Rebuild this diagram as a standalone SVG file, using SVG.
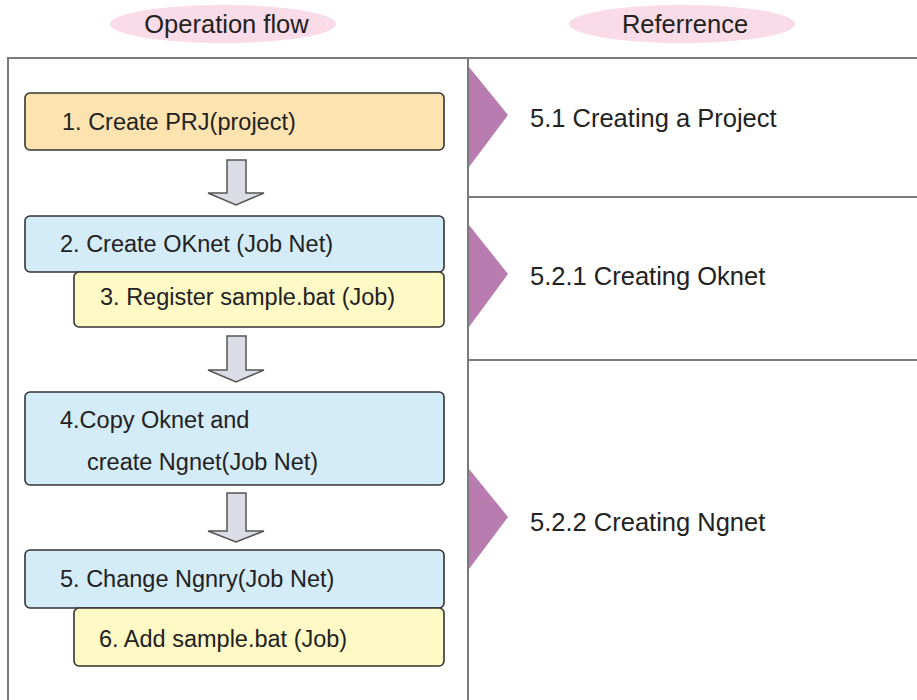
<svg xmlns="http://www.w3.org/2000/svg" width="917" height="700" viewBox="0 0 917 700">
<style>
text{font-family:"Liberation Sans",Arial,sans-serif;font-size:23.5px;fill:#222}
text.big{font-size:25.5px}
.hdr{fill:#f9dce8}
.box{stroke:#333;stroke-width:1.6}
.prj{fill:#fde3b0}
.net{fill:#d4ebf8}
.job{fill:#fff9c6}
.frame{fill:none;stroke:#7a7a7a;stroke-width:2}
.tri{fill:#b97cb0}
.arrow{fill:#dcdce6;stroke:#555;stroke-width:1.5;stroke-linejoin:miter}
</style>
<rect width="917" height="700" fill="#fff"/>
<g id="header-flow"><ellipse class="hdr" cx="223" cy="24" rx="113" ry="19"/><text class="big" x="226.5" y="33" text-anchor="middle">Operation flow</text></g>
<g id="header-ref"><ellipse class="hdr" cx="682" cy="24" rx="113" ry="19"/><text class="big" x="685" y="33" text-anchor="middle">Referrence</text></g>
<g id="frame">
<path class="frame" d="M8,710 V58 H920"/>
<path class="frame" d="M468,58 V710"/>
<path class="frame" d="M468,197 H920 M468,360 H920"/>
</g>
<g id="connectors">
<path class="arrow" d="M227,160 H246 V193 H264 L236,205 L208,193 H227 Z"/>
<path class="arrow" d="M227,336 H246 V370 H264 L236,382 L208,370 H227 Z"/>
<path class="arrow" d="M227,493 H246 V531 H264 L236,542 L208,531 H227 Z"/>
</g>
<g id="n1"><rect class="box prj" x="25" y="93" width="419" height="57" rx="5"/><text x="62" y="130">1. Create PRJ(project)</text></g>
<g id="n2"><rect class="box net" x="25" y="216" width="419" height="56" rx="5"/><text x="60" y="252">2. Create OKnet (Job Net)</text></g>
<g id="n3"><rect class="box job" x="74" y="272" width="370" height="55" rx="5"/><text x="100" y="305">3. Register sample.bat (Job)</text></g>
<g id="n4"><rect class="box net" x="25" y="392" width="419" height="93" rx="5"/><text x="60" y="428">4.Copy Oknet and</text><text x="87" y="470">create Ngnet(Job Net)</text></g>
<g id="n5"><rect class="box net" x="25" y="550" width="419" height="58" rx="5"/><text x="60" y="587">5. Change Ngnry(Job Net)</text></g>
<g id="n6"><rect class="box job" x="74" y="608" width="370" height="58" rx="5"/><text x="99" y="647">6. Add sample.bat (Job)</text></g>
<g id="r1"><path class="tri" d="M469,67 L508,115 L469,167 Z"/><text class="big" x="530" y="127">5.1 Creating a Project</text></g>
<g id="r2"><path class="tri" d="M469,225 L508,274 L469,327 Z"/><text class="big" x="530" y="285">5.2.1 Creating Oknet</text></g>
<g id="r3"><path class="tri" d="M469,469 L508,517 L469,569 Z"/><text class="big" x="530" y="531">5.2.2 Creating Ngnet</text></g>
</svg>
